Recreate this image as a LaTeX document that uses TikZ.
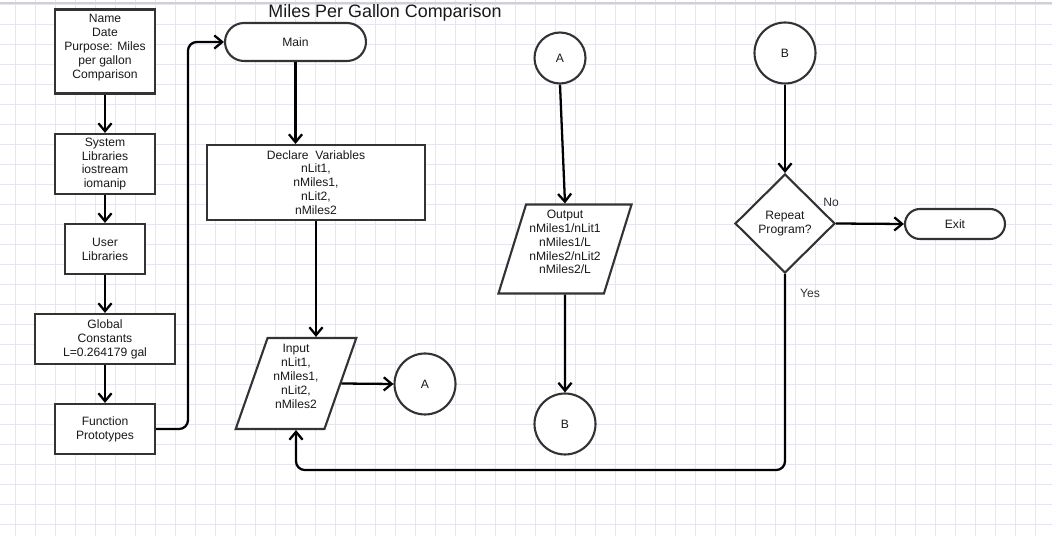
\documentclass[tikz,border=0pt]{standalone}
\usepackage{xcolor}
\usepackage{fontspec}
\setmainfont{Liberation Sans}
\usetikzlibrary{arrows.meta, shapes.geometric}

\definecolor{gridBlue}{HTML}{E6E6F3}
\definecolor{edgeGray}{HTML}{333333}

\begin{document}
\begin{tikzpicture}[x=0.02cm, y=-0.02cm, >={Straight Barb[length=4.5pt, width=7.5pt]},
  every node/.style={font=\fontsize{6.9}{7.9}\selectfont, text=black!90, align=center},
  box/.style={draw=edgeGray, line width=1.2pt, fill=white, inner sep=0pt},
  termbox/.style={box, rounded corners=#1},
  ioBox/.style={box, trapezium, trapezium left angle=72, trapezium right angle=108, trapezium stretches=true, text depth=0.28cm},
  connCircle/.style={box, circle},
  flow/.style={->, line width=1.3pt, black}]

  % page and grid
  \useasboundingbox (0,0) rectangle (1052,536);
  \fill[white] (0,0) rectangle (1052,536);
  \foreach \gx in {0,...,51} \draw[gridBlue, line width=0.5pt] (15.5+20*\gx,0) -- (15.5+20*\gx,536);
  \foreach \gy in {0,...,26} \draw[gridBlue, line width=0.5pt] (0,4+20*\gy) -- (1052,4+20*\gy);
  \draw[black!18, line width=0.8pt] (0,3) -- (1052,3);

  \node[font=\fontsize{10.2}{12}\selectfont] (title) at (385,12.5) {Miles Per Gallon Comparison};

  % left column
  \node[box, minimum width=2cm, minimum height=1.68cm, text depth=0.2cm] (nameBox) at (105,51.5) {Name\\Date\\Purpose: Miles\\per gallon\\Comparison};
  \node[box, minimum width=2cm, minimum height=1.2cm] (sysLib) at (105,164) {System\\Libraries\\iostream\\iomanip};
  \node[box, minimum width=1.6cm, minimum height=1cm] (userLib) at (105,249) {User\\Libraries};
  \node[box, minimum width=2.8cm, minimum height=1cm] (globals) at (105,339) {Global\\Constants\\L=0.264179 gal};
  \node[box, minimum width=2cm, minimum height=1cm] (protos) at (105,429) {Function\\Prototypes};

  % main
  \node[termbox=0.38cm, minimum width=2.82cm, minimum height=0.76cm] (mainStart) at (295.5,42) {Main};
  \node[box, minimum width=4.37cm, minimum height=1.5cm] (declare) at (316,182.5) {Declare\ \ Variables\\nLit1,\\nMiles1,\\nLit2,\\nMiles2};
  \node[ioBox, minimum width=2.42cm, minimum height=1.82cm] (input) at (296,383.5) {Input\\nLit1,\\nMiles1,\\nLit2,\\nMiles2};
  \node[connCircle, minimum size=1.22cm] (conA) at (425,384) {A};

  % output part
  \node[connCircle, minimum size=1.02cm] (startA) at (560,58) {A};
  \node[ioBox, minimum width=2.68cm, minimum height=1.78cm] (output) at (565,249) {Output\\nMiles1/nLit1\\nMiles1/L\\nMiles2/nLit2\\nMiles2/L};
  \node[connCircle, minimum size=1.22cm] (conB) at (565,424) {B};

  % repeat part
  \node[connCircle, minimum size=1.22cm] (startB) at (785,53) {B};
  \node[box, diamond, minimum width=2cm, minimum height=1.98cm] (repeat) at (785,223.5) {Repeat\\Program?};
  \node[termbox=0.3cm, minimum width=2cm, minimum height=0.6cm] (exitEnd) at (955,224) {Exit};
  \node[text=black!80] (noLbl) at (831,202) {No};
  \node[text=black!80] (yesLbl) at (810,293) {Yes};

  % connectors
  \draw[flow] (nameBox) -- (sysLib);
  \draw[flow] (sysLib) -- (userLib);
  \draw[flow] (userLib) -- (globals);
  \draw[flow] (globals) -- (protos);
  \draw[flow, rounded corners=5pt] (protos.east) -| ([xshift=-0.72cm]mainStart.west) -- (mainStart.west);
  \draw[flow] (mainStart.south) -- (mainStart.south |- declare.north);
  \draw[flow] (declare.south) -- (declare.south |- input.north);
  \draw[flow] (input.east) -- (conA.west);
  \draw[flow] (startA.south) -- (output.north);
  \draw[flow] (output.south) -- (conB.north);
  \draw[flow] (startB.south) -- (repeat.north);
  \draw[flow] (repeat.east) -- (exitEnd.west);
  \draw[flow, rounded corners=5pt] (repeat.south) |- ([yshift=-0.8cm]input.south) -- (input.south);
\end{tikzpicture}
\end{document}
